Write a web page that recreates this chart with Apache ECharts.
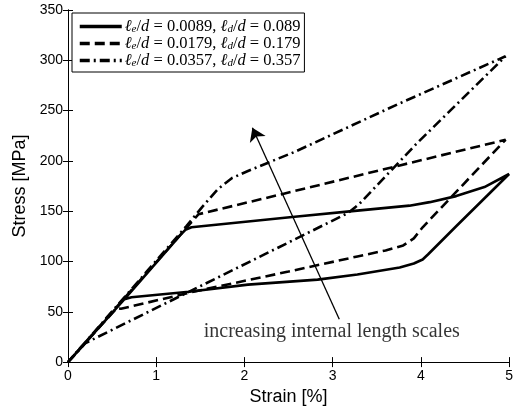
<!DOCTYPE html>
<html>
<head>
<meta charset="utf-8">
<script src="https://cdn.jsdelivr.net/npm/echarts@6/dist/echarts.min.js"></script>
<style>
html,body{margin:0;padding:0;background:#fff;}
#chart{width:516px;height:411px;}
</style>
</head>
<body>
<div id="chart"></div>
<script>
// ---- data (strain %, stress MPa) ----
var seriesNames = [
  'le/d = 0.0089, ld/d = 0.089',
  'le/d = 0.0179, ld/d = 0.179',
  'le/d = 0.0357, ld/d = 0.357'
];
var leValues = ['0.0089', '0.0179', '0.0357'];
var ldValues = ['0.089', '0.179', '0.357'];

var s1x = [0, 0.64, 0.72, 1.37, 2.04, 2.83, 3.28, 3.76, 3.92, 4.02, 4.08, 4.40, 5.00, 4.72, 4.40, 4.10, 3.87, 3.28, 2.57, 1.40, 1.33, 1.27, 0.64, 0];
var s1y = [0, 62.5, 64.5, 70, 77, 82, 87, 94, 98, 102, 107, 135, 187, 174, 165, 159, 155.5, 150.6, 144.5, 134, 131.5, 126, 62.5, 0];

var s2x = [0, 0.55, 0.60, 1.45, 2.50, 3.28, 3.60, 3.80, 3.92, 4.02, 4.96, 3.76, 2.38, 1.48, 1.44, 0];
var s2y = [0, 53.5, 53, 70.5, 90, 105, 111, 116, 123, 134, 221, 195.5, 166, 147, 143, 0];

var s3x = [0, 0.20, 1.20, 2.38, 3.18, 3.30, 3.95, 4.96, 3.73, 2.57, 2.04, 1.86, 1.70, 1.52, 1.34, 1.30, 0];
var s3y = [0, 19, 62.5, 113.7, 148.5, 157, 217, 304, 256, 209, 190, 183, 172, 154, 135, 131, 0];

var xTicks = [0, 1, 2, 3, 4, 5];
var yTicks = [0, 50, 100, 150, 200, 250, 300, 350];

var arrowTail = [3.075, 42.6];
var arrowHead = [2.09, 233];
var notePos = [2.99, 29.7];
var noteText = 'increasing internal length scales';

function pairs(xs, ys) { return xs.map(function (x, i) { return [x, ys[i]]; }); }

var chart = echarts.init(document.getElementById('chart'), null, {renderer: 'canvas'});

var axisCommon = {
  type: 'value',
  axisLine: {show: true, lineStyle: {color: '#000', width: 1}},
  axisTick: {show: true, inside: true, length: 5, lineStyle: {color: '#000', width: 1}},
  splitLine: {show: false}
};

var tickFont = {color: '#000', fontSize: 14, fontFamily: 'Liberation Sans, Arial, sans-serif'};

var option = {
  animation: false,
  backgroundColor: '#fff',
  grid: {left: 68, right: 3, top: 10, bottom: 48, containLabel: false},
  legend: {
    data: seriesNames,
    orient: 'vertical',
    left: 72,
    top: 13,
    padding: [5, 4, 3, 6],
    itemGap: 0,
    itemWidth: 42,
    itemHeight: 14,
    borderColor: '#000',
    borderWidth: 1,
    backgroundColor: '#fff',
    selectedMode: false,
    itemStyle: {opacity: 0},
    lineStyle: {width: 3.5},
    formatter: function (name) {
      var k = seriesNames.indexOf(name);
      return '{i|\u2113}{sub|e}{r|/}{i|d}{r| = ' + leValues[k] + ', }{i|\u2113}{sub|d}{r|/}{i|d}{r| = ' + ldValues[k] + '}';
    },
    textStyle: {
      color: '#000',
      padding: [0, 0, 0, -2],
      rich: {
        i: {fontFamily: 'Liberation Serif, serif', fontStyle: 'italic', fontSize: 16.5, lineHeight: 16, color: '#000'},
        r: {fontFamily: 'Liberation Serif, serif', fontSize: 16.5, lineHeight: 16, color: '#000'},
        sub: {fontFamily: 'Liberation Serif, serif', fontStyle: 'italic', fontSize: 11, lineHeight: 11, verticalAlign: 'bottom', color: '#000'}
      }
    }
  },
  xAxis: [
    Object.assign({}, axisCommon, {
      position: 'bottom', min: 0, max: 5, interval: 1,
      axisLabel: Object.assign({show: true, margin: 7, formatter: function (v) { return xTicks.indexOf(v) >= 0 ? String(v) : ''; }}, tickFont),
      name: 'Strain [%]', nameLocation: 'middle', nameGap: 23,
      nameTextStyle: {color: '#000', fontSize: 18, fontFamily: 'Liberation Sans, Arial, sans-serif'}
    }),
    Object.assign({}, axisCommon, {position: 'top', min: 0, max: 5, interval: 1, axisLabel: {show: false}})
  ],
  yAxis: [
    Object.assign({}, axisCommon, {
      position: 'left', min: 0, max: 350, interval: 50,
      axisLabel: Object.assign({show: true, margin: 5, formatter: function (v) { return yTicks.indexOf(v) >= 0 ? String(v) : ''; }}, tickFont),
      name: 'Stress [MPa]', nameLocation: 'middle', nameGap: 33,
      nameTextStyle: {color: '#000', fontSize: 18, fontFamily: 'Liberation Sans, Arial, sans-serif'}
    }),
    Object.assign({}, axisCommon, {position: 'right', min: 0, max: 350, interval: 50, axisLabel: {show: false}})
  ],
  series: [
    {
      name: seriesNames[0], type: 'line', xAxisIndex: 0, yAxisIndex: 0,
      data: pairs(s1x, s1y), symbol: 'none', smooth: false,
      lineStyle: {color: '#000', width: 2.6, type: 'solid'}, itemStyle: {color: '#000'},
      markLine: {
        silent: true,
        symbol: ['none', 'arrow'],
        symbolSize: 13,
        label: {show: false},
        itemStyle: {color: '#000'},
        lineStyle: {color: '#000', width: 1.3, type: 'solid'},
        emphasis: {disabled: true},
        data: [[{coord: arrowTail}, {coord: arrowHead}]]
      }
    },
    {
      name: seriesNames[1], type: 'line', xAxisIndex: 0, yAxisIndex: 0,
      data: pairs(s2x, s2y), symbol: 'none', smooth: false,
      lineStyle: {color: '#000', width: 2.6, type: [10, 5]}, itemStyle: {color: '#000'}
    },
    {
      name: seriesNames[2], type: 'line', xAxisIndex: 0, yAxisIndex: 0,
      data: pairs(s3x, s3y), symbol: 'none', smooth: false,
      lineStyle: {color: '#000', width: 2.6, type: [10, 4, 2, 4]}, itemStyle: {color: '#000'}
    },
    {
      name: 'note', type: 'scatter', xAxisIndex: 0, yAxisIndex: 0,
      data: [notePos], symbolSize: 0, silent: true,
      label: {
        show: true, position: 'inside', formatter: noteText,
        color: '#000', fontSize: 20, fontFamily: 'Liberation Serif, serif'
      }
    }
  ]
};
chart.setOption(option);
</script>
</body>
</html>
